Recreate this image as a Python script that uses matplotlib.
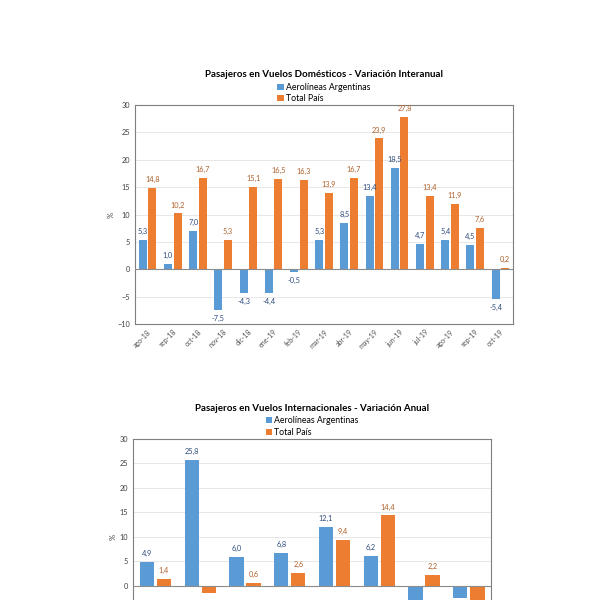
import numpy as np
import matplotlib
matplotlib.use("Agg")
import matplotlib.pyplot as plt

plt.rcParams['font.family'] = ['Lato', 'DejaVu Sans']

# datos - vuelos domesticos
meses = ["ago-18", "sep-18", "oct-18", "nov-18", "dic-18", "ene-19", "feb-19", "mar-19",
         "abr-19", "may-19", "jun-19", "jul-19", "ago-19", "sep-19", "oct-19"]
dom_ar = [5.3, 1.0, 7.0, -7.5, -4.3, -4.4, -0.5, 5.3, 8.5, 13.4, 18.5, 4.7, 5.4, 4.5, -5.4]
dom_total = [14.8, 10.2, 16.7, 5.3, 15.1, 16.5, 16.3, 13.9, 16.7, 23.9, 27.8, 13.4, 11.9, 7.6, 0.2]

# datos - vuelos internacionales (la parte inferior queda fuera de la imagen)
anios = ["2012", "2013", "2014", "2015", "2016", "2017", "2018", "2019"]
int_ar = [4.9, 25.8, 6.0, 6.8, 12.1, 6.2, -4.0, -2.5]
int_total = [1.4, -1.5, 0.6, 2.6, 9.4, 14.4, 2.2, -3.5]

c_ar = "#5B9BD5"
c_tot = "#ED7D31"
c_lab_ar = "#2F4B7C"
c_lab_tot = "#B0602A"


def fmt(v):
    return ("%.1f" % v).replace(".", ",")


def grafico(ax, cats, ar, tot, titulo, cortado=False):
    x = np.arange(len(cats))
    w = 0.32
    off = 0.19
    ax.bar(x - off, ar, w, color=c_ar, label="Aerolíneas Argentinas", zorder=3)
    ax.bar(x + off, tot, w, color=c_tot, label="Total País", zorder=3)
    for serie, dx, col in ((ar, -off, c_lab_ar), (tot, off, c_lab_tot)):
        for xi, v in zip(x, serie):
            # en el grafico inferior las etiquetas negativas quedan fuera de la imagen
            if cortado and v < 0:
                continue
            ax.annotate(fmt(v), (xi + dx, v), xytext=(0, 3.5 if v >= 0 else -3.5),
                        textcoords="offset points", ha="center",
                        va="bottom" if v >= 0 else "top", fontsize=5.3, color=col)
    ax.set_xlim(-0.5, len(cats) - 0.5)
    ax.set_ylim(-10, 30)
    if cortado:
        ax.set_yticks(range(0, 31, 5))
    else:
        ax.set_yticks(range(-10, 31, 5))
    ax.yaxis.grid(True, color="#E3E3E3", linewidth=0.6, zorder=0)
    ax.axhline(0, color="#8C8C8C", linewidth=0.8, zorder=4)
    ax.set_xticks(x)
    if cortado:
        ax.set_xticklabels([])
    else:
        ax.set_xticklabels(cats, rotation=45, ha="right", rotation_mode="anchor",
                           fontsize=5, color="#505050")
    ax.tick_params(axis="y", labelsize=5.3, colors="#404040", length=0)
    ax.tick_params(axis="x", length=0, pad=3)
    for s in ax.spines.values():
        s.set_color("#7F7F7F")
        s.set_linewidth(0.8)
    ax.set_ylabel("%", fontsize=5.5, color="#404040", labelpad=2)
    ax.set_title(titulo, fontsize=7, fontweight="bold", pad=20)
    ax.legend(loc="lower center", bbox_to_anchor=(0.5, 0.985), ncol=1, frameon=False,
              fontsize=6.3, handlelength=0.7, handleheight=0.7, handletextpad=0.3,
              labelspacing=0.25, borderpad=0.1)


fig = plt.figure(figsize=(6, 6), dpi=100)

ax1 = fig.add_axes([0.225, 0.46, 0.63, 0.365])
grafico(ax1, meses, dom_ar, dom_total,
        "Pasajeros en Vuelos Domésticos - Variación Interanual")

ax2 = fig.add_axes([0.2217, -0.0583, 0.597, 0.3267])
grafico(ax2, anios, int_ar, int_total,
        "Pasajeros en Vuelos Internacionales - Variación Anual", cortado=True)

fig.savefig("out.png", dpi=100)
